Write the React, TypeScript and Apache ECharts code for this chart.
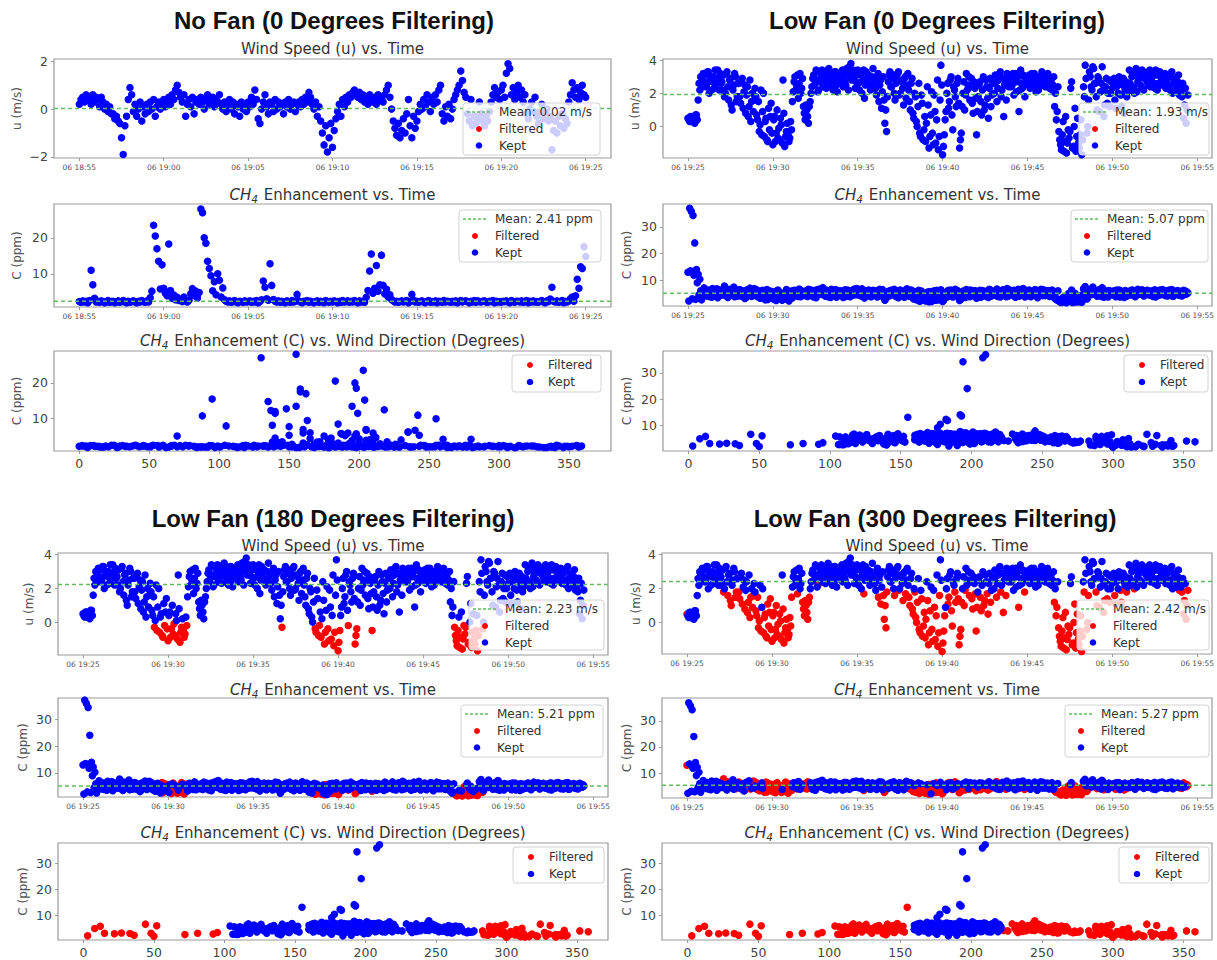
import { useEffect, useRef } from 'react';
import * as echarts from 'echarts';

// ---------------- DATA ----------------
const SAMPLE_STEP_MIN = 0.1; // one sample every 6 s, minutes after the first tick
const LOW_B_OFFSET_MIN = 0.05; // second interleaved set of Low Fan samples (3 s later)

// No Fan run (06 18:55 -> 06 19:25)
const noFanU = [
  0.2, 0.4, 0.5, 0.3, 0.6, 0.4, 0.5, 0.2, 0.6, 0.3,
  0.5, 0.4, 0.1, 0.5, 0.3, 0.0, 0.2, -0.1, 0.1, -0.2,
  -0.2, -0.4, -0.3, -0.5, -0.6, -1.2, -1.9, -0.7, -0.3, 0.4,
  0.9, 0.6, -0.1, 0.2, -0.3, 0.0, 0.3, -0.5, 0.1, -0.2,
  0.2, -0.1, 0.3, 0.0, 0.4, -0.3, 0.1, 0.3, 0.0, 0.2,
  0.4, 0.1, 0.3, 0.5, 0.2, 0.6, 0.4, 0.8, 1.0, 0.7,
  0.5, 0.3, 0.6, -0.3, 0.2, 0.4, 0.1, 0.5, -0.2, 0.3,
  0.4, 0.2, 0.5, 0.3, 0.0, 0.4, 0.6, 0.2, 0.3, 0.5,
  0.1, 0.4, 0.3, 0.6, 0.2, 0.0, 0.3, -0.1, 0.2, 0.4,
  0.0, 0.3, -0.2, 0.2, 0.1, -0.3, 0.3, 0.0, 0.2, -0.1,
  0.3, 0.1, 0.5, 0.2, 0.8, 0.4, -0.4, -0.6, 0.0, 0.3,
  0.6, 0.1, -0.2, 0.3, 0.2, -0.1, 0.4, 0.0, 0.3, 0.1,
  0.2, -0.2, 0.3, 0.1, 0.4, 0.0, 0.2, 0.3, -0.1, 0.2,
  0.3, 0.1, 0.4, 0.2, 0.5, 0.3, 0.7, 0.5, 0.2, 0.0,
  0.3, -0.3, 0.1, -0.5, -1.0, -1.5, -0.7, -1.8, -1.2, -0.6,
  -1.6, -0.9, -0.4, -0.1, 0.2, -0.3, 0.4, 0.1, 0.5, 0.3,
  0.6, 0.5, 0.7, 0.8, 0.6, 0.5, 0.7, 0.4, 0.6, 0.3,
  0.5, 0.2, 0.6, 0.4, 0.3, 0.5, 0.2, 0.6, 0.4, 0.5,
  0.3, 0.6, 0.8, 1.0, 0.5, 0.0, -0.5, -0.8, -1.1, -0.6,
  -1.2, -0.9, -0.4, -1.0, -0.2, 0.4, -0.7, -1.2, -0.3, -0.8,
  -0.5, -0.1, 0.2, 0.0, 0.4, 0.1, 0.6, 0.3, -0.1, 0.5,
  0.2, 0.6, 0.3, 0.8, 1.0, -0.2, -0.5, 0.1, -0.3, 0.2,
  -0.4, 0.0, 0.4, 0.6, 0.8, 1.0, 1.6, 1.2, 0.7, 0.5,
  -0.2, -0.5, 0.4, -0.7, -0.3, -0.6, -0.4, 0.3, -0.2, -0.5,
  -0.7, -0.3, -0.5, -0.1, 0.3, 0.6, 0.9, 0.5, 0.7, 0.4,
  0.8, 1.0, 0.5, 1.5, 1.9, 1.7, 0.6, 0.9, 0.4, 0.7,
  1.0, 0.5, 0.8, 0.3, 0.6, -0.2, -0.4, 0.0, 0.3, -0.1,
  0.5, -0.3, -0.6, -0.1, 0.2, -0.4, -0.2, 0.0, -0.5, -0.3,
  -1.7, -0.9, -0.5, -1.0, -0.3, -0.7, -0.2, -0.8, -0.4, -0.6,
  0.3, 0.6, 1.1, 0.8, 0.5, 0.9, 0.4, 0.7, 1.0, 0.6,
  0.5,
];
const noFanC = [
  2.3, 2.1, 2.5, 2.2, 2.4, 2.0, 2.6, 11.0, 7.0, 3.2,
  2.2, 2.4, 2.1, 2.5, 2.3, 2.0, 2.2, 2.6, 2.1, 2.3,
  2.4, 2.0, 2.2, 2.5, 2.1, 2.3, 2.6, 2.2, 2.0, 2.4,
  2.1, 2.3, 2.5, 2.2, 2.0, 2.4, 2.2, 2.6, 2.3, 2.1,
  2.5, 2.2, 3.4, 5.2, 23.5, 20.5, 17.0, 13.5, 5.8, 12.5,
  6.0, 4.6, 3.9, 18.3, 5.4, 3.2, 4.1, 2.8, 3.5, 2.6,
  2.9, 2.3, 3.6, 2.5, 2.2, 2.7, 4.5, 5.9, 4.0, 5.2,
  3.3, 4.8, 28.0, 27.0, 20.0, 18.5, 13.5, 11.5, 9.5, 5.3,
  7.8, 4.2, 10.0, 8.2, 3.6, 6.1, 2.8, 2.4, 2.2, 2.5,
  2.1, 2.3, 2.6, 2.2, 2.0, 2.4, 2.3, 2.1, 2.5, 2.2,
  2.3, 2.5, 2.1, 2.4, 2.2, 2.6, 2.0, 2.3, 2.8, 8.0,
  6.3, 3.1, 2.7, 12.8, 6.8, 2.9, 2.4, 2.2, 2.5, 2.1,
  2.4, 2.2, 2.0, 2.5, 2.3, 2.1, 2.6, 2.2, 2.4, 4.3,
  2.5, 2.2, 2.0, 2.4, 2.3, 2.6, 2.1, 2.4, 2.2, 2.0,
  2.3, 2.5, 2.1, 2.4, 2.2, 2.0, 2.6, 2.3, 2.1, 2.4,
  2.2, 2.5, 2.3, 2.0, 2.4, 2.1, 2.6, 2.2, 2.3, 2.5,
  2.1, 2.4, 2.2, 2.6, 2.3, 2.0, 2.5, 2.2, 2.4, 2.1,
  3.5, 5.4, 10.8, 15.5, 4.6, 6.0, 12.3, 5.2, 7.0, 15.2,
  6.8, 4.4, 5.7, 3.6, 4.2, 2.9, 2.5, 2.2, 2.4, 2.1,
  2.3, 2.5, 2.2, 2.4, 2.6, 2.0, 2.3, 4.3, 2.7, 2.2,
  2.4, 2.1, 2.3, 2.5, 2.2, 2.0, 2.4, 2.6, 2.1, 2.3,
  2.2, 2.5, 2.0, 2.4, 2.3, 2.1, 2.6, 2.2, 2.4, 2.3,
  2.1, 2.4, 2.2, 2.5, 2.0, 2.3, 2.6, 2.2, 2.4, 2.5,
  2.3, 2.0, 2.4, 2.2, 2.6, 2.1, 2.5, 2.3, 2.2, 2.4,
  2.5, 2.2, 2.1, 2.4, 2.3, 2.6, 2.0, 2.4, 2.2, 2.3,
  2.1, 2.4, 2.3, 2.5, 2.2, 2.0, 2.6, 2.3, 2.1, 2.4,
  2.4, 2.2, 2.5, 2.1, 2.3, 2.6, 2.0, 2.4, 2.2, 2.5,
  2.2, 2.3, 2.1, 2.4, 2.6, 2.2, 2.0, 2.5, 2.3, 3.0,
  6.3, 2.4, 2.2, 2.5, 2.1, 2.3, 2.6, 2.0, 2.4, 2.2,
  2.5, 3.1, 3.6, 2.4, 3.9, 8.5, 6.0, 12.0, 11.5, 17.5,
  14.8,
];
const noFanDir = [
  12, 87, 233, 301, 45, 168, 279, 242, 205, 160,
  350, 121, 64, 196, 318, 27, 254, 143, 92, 337,
  5, 178, 289, 56, 225, 110, 341, 74, 263, 132,
  210, 33, 356, 152, 97, 271, 18, 187, 308, 248,
  66, 327, 145, 175, 203, 183, 162, 155, 198, 218,
  192, 140, 210, 158, 150, 185, 230, 195, 138, 23,
  168, 296, 200, 41, 115, 222, 165, 187, 205, 197,
  143, 212, 155, 130, 197, 198, 195, 140, 163, 190,
  150, 178, 255, 138, 220, 165, 206, 3, 283, 79,
  237, 349, 104, 191, 62, 315, 171, 28, 246, 127,
  295, 10, 183, 268, 51, 149, 332, 214, 180, 105,
  235, 193, 177, 148, 205, 226, 359, 88, 201, 274,
  38, 161, 306, 117, 243, 15, 189, 70, 323, 260,
  142, 258, 84, 208, 347, 125, 277, 47, 196, 312,
  170, 8, 229, 99, 286, 155, 60, 217, 135, 343,
  252, 31, 186, 113, 320, 204, 76, 166, 290, 2,
  199, 139, 265, 53, 174, 334, 95, 221, 11, 158,
  170, 243, 88, 95, 180, 210, 137, 70, 160, 204,
  240, 200, 188, 172, 208, 152, 300, 43, 128, 357,
  184, 72, 239, 19, 146, 281, 207, 280, 163, 101,
  325, 57, 192, 133, 270, 6, 176, 244, 90, 213,
  36, 303, 157, 224, 82, 338, 119, 195, 261, 14,
  188, 66, 250, 141, 311, 172, 25, 228, 107, 293,
  153, 346, 202, 49, 276, 124, 182, 0, 236, 167,
  93, 317, 211, 136, 58, 255, 179, 29, 299, 144,
  219, 78, 352, 190, 112, 266, 40, 161, 329, 206,
  131, 21, 247, 175, 305, 68, 198, 285, 150, 355,
  100, 226, 17, 185, 263, 139, 340, 52, 194, 215,
  235, 171, 85, 314, 203, 34, 257, 118, 180, 336,
  46, 181, 145, 272, 195, 185, 160, 140, 199, 158,
  135,
];

// Low Fan run (06 19:25 -> 06 19:55), shared by the three Low Fan panels
const lowFanU = [
  0.5, 0.3, 0.6, 0.4, 0.2, 0.7, 1.6, 2.2, 2.9, 3.2,
  3.1, 2.5, 3.3, 2.8, 2.2, 3.0, 3.4, 2.6, 2.9, 3.2,
  2.7, 3.1, 2.0, 3.3, 1.6, 2.9, 1.0, 2.5, 3.0, 1.8,
  2.6, 1.4, 2.9, 2.1, 0.8, 2.4, 1.2, 0.3, 2.0, 1.6,
  1.8, 0.4, -0.3, 2.2, 0.9, -0.6, 0.5, -0.9, -0.2, 1.4,
  -1.1, 0.6, -0.4, -0.7, -0.8, 0.1, 2.8, -1.2, -0.3, -0.5,
  -0.7, -0.2, 2.1, 3.0, 2.5, 1.7, 3.2, 2.3, 1.2, 0.4,
  1.0, 0.2, 1.5, 2.4, 3.1, 2.8, 3.3, 2.2, 2.9, 3.4,
  2.6, 3.2, 2.9, 3.5, 2.4, 3.0, 2.7, 3.3, 2.1, 3.1,
  2.8, 3.4, 3.0, 2.5, 3.3, 3.6, 3.8, 2.9, 3.2, 2.7,
  3.4, 2.2, 3.1, 2.8, 1.7, 3.3, 2.6, 3.0, 2.4, 3.5,
  2.9, 1.9, 3.2, 2.5, 1.1, 3.0, 0.2, -0.3, 2.7, 3.3,
  2.4, 3.1, 1.6, 2.8, 3.3, 2.0, 2.7, 1.3, 3.0, 2.5,
  2.2, 1.0, 2.9, 0.5, 1.8, 0.0, 2.6, -0.6, 1.4, -0.2,
  -0.9, 2.4, -1.3, 0.7, -0.4, 1.9, -1.0, 2.8, -0.6, 3.7,
  -1.7, -0.5, 0.9, 2.6, 1.5, 3.0, -0.2, 2.2, 1.2, 2.9,
  -1.3, -0.4, 2.0, 1.0, 3.2, 2.5, 1.6, 2.9, 0.8, 2.3,
  -0.5, 1.8, 2.7, 0.7, 3.0, 1.3, 2.4, 0.5, 2.9, 1.9,
  2.6, 3.1, 1.5, 2.8, 3.3, 2.2, 0.6, 2.9, 3.2, 2.4,
  3.0, 2.5, 1.9, 3.2, 2.7, 0.9, 3.4, 2.3, 3.0, 2.6,
  2.8, 3.1, 2.4, 2.9, 3.2, 2.1, 2.7, 3.0, 2.5, 3.1,
  2.9, 2.6, 3.2, 2.3, 2.8, 2.5, 1.2, 0.4, 2.4, -0.8,
  -1.4, 0.3, -0.9, -1.6, -0.2, -0.3, 2.7, -1.2, 1.1, -0.6,
  -1.0, -0.5, -1.7, 2.4, 3.7, -0.4, 1.6, 3.0, 2.2, 3.5,
  2.6, 1.0, 2.9, 2.1, 3.6, 0.6, 2.4, 1.4, 2.8, 2.0,
  2.3, 2.9, 1.1, 2.6, 3.0, 1.9, 2.5, 0.8, 2.7, 2.1,
  3.4, 2.2, 3.1, 2.0, 3.5, 2.7, 3.2, 2.4, 3.3, 2.9,
  3.0, 2.5, 3.4, 2.8, 3.2, 2.3, 3.1, 2.6, 3.3, 2.9,
  2.7, 3.2, 2.4, 3.0, 2.2, 3.3, 2.6, 2.9, 2.1, 3.1,
  2.5, 1.8, 0.5, 2.3, 1.0,
];
const lowFanC = [
  13.0, 37.0, 35.8, 34.3, 24.0, 14.0, 12.2, 10.3, 2.6, 6.2,
  5.4, 4.1, 6.3, 5.0, 3.6, 5.8, 4.6, 6.8, 5.2, 4.3,
  6.0, 4.8, 5.5, 3.9, 6.6, 5.1, 4.4, 7.4, 5.7, 4.0,
  5.3, 6.1, 4.5, 5.9, 3.4, 6.4, 4.9, 5.6, 4.2, 6.9,
  5.0, 3.8, 5.7, 4.6, 6.2, 3.1, 5.4, 2.7, 6.0, 4.4,
  3.3, 5.6, 2.4, 6.3, 4.1, 5.1, 3.7, 2.9, 6.5, 4.8,
  3.6, 5.9, 4.7, 6.1, 5.3, 3.9, 6.4, 4.5, 5.6, 4.2,
  5.1, 6.6, 4.3, 5.8, 3.7, 6.2, 4.9, 5.4, 6.8, 4.6,
  5.5, 4.0, 6.1, 5.0, 3.5, 5.9, 4.7, 6.5, 5.2, 4.4,
  6.0, 4.8, 5.3, 3.9, 6.3, 5.6, 4.2, 5.0, 6.7, 4.5,
  5.2, 6.4, 4.1, 5.7, 3.3, 6.0, 4.9, 5.5, 3.8, 6.2,
  4.6, 5.9, 4.0, 6.6, 5.1, 3.6, 2.5, 3.9, 5.8, 4.7,
  6.1, 5.0, 4.3, 5.6, 3.4, 6.3, 4.8, 5.3, 4.0, 6.8,
  5.4, 4.2, 6.0, 2.9, 5.7, 3.5, 6.2, 2.3, 4.6, 3.1,
  2.2, 5.5, 1.9, 4.4, 2.8, 6.0, 2.5, 5.2, 3.6, 6.4,
  2.0, 3.3, 4.8, 5.9, 4.1, 6.3, 3.7, 5.4, 4.5, 6.0,
  2.4, 3.0, 5.6, 4.3, 6.5, 5.0, 3.8, 5.8, 4.2, 6.1,
  3.2, 4.6, 6.2, 3.9, 5.5, 4.1, 5.9, 3.5, 6.4, 4.8,
  5.6, 4.3, 6.7, 5.1, 3.7, 6.0, 4.5, 5.3, 6.9, 4.1,
  5.8, 4.7, 6.2, 3.6, 5.4, 4.0, 6.5, 5.0, 4.4, 6.1,
  4.9, 6.3, 3.8, 5.6, 4.5, 6.0, 3.4, 5.2, 6.6, 4.2,
  5.7, 4.4, 6.1, 3.9, 5.3, 4.8, 3.2, 2.6, 6.0, 2.0,
  1.6, 3.5, 2.2, 1.5, 4.9, 2.7, 6.3, 1.8, 5.1, 2.4,
  2.0, 3.9, 1.7, 6.8, 7.6, 2.9, 5.0, 6.2, 4.6, 5.7,
  5.2, 4.0, 6.4, 4.7, 7.2, 3.6, 5.9, 4.3, 6.1, 5.0,
  4.5, 6.0, 3.8, 5.4, 6.3, 4.9, 5.6, 3.5, 5.8, 4.4,
  5.9, 4.6, 6.2, 4.1, 5.5, 6.6, 4.8, 5.3, 6.0, 4.3,
  5.0, 6.1, 4.4, 5.7, 3.9, 6.4, 4.9, 5.4, 6.3, 4.6,
  5.5, 4.2, 6.0, 5.1, 4.7, 6.5, 4.0, 5.8, 5.2, 4.5,
  5.3, 4.1, 6.2, 4.8, 5.6,
];
const lowFanDir = [
  155, 210, 208, 194, 197, 192, 182, 178, 176, 185,
  188, 172, 195, 168, 207, 201, 190, 164, 213, 183,
  205, 179, 171, 193, 236, 170, 128, 217, 186, 151,
  162, 247, 198, 174, 118, 220, 139, 262, 166, 244,
  175, 112, 292, 190, 168, 305, 252, 318, 331, 134,
  327, 124, 286, 299, 341, 258, 183, 312, 44, 8,
  298, 52, 204, 187, 173, 226, 196, 160, 133, 254,
  241, 117, 238, 181, 203, 167, 191, 150, 210, 186,
  178, 199, 215, 188, 163, 207, 171, 194, 212, 182,
  200, 185, 176, 219, 192, 197, 189, 169, 206, 174,
  193, 214, 180, 211, 146, 187, 165, 202, 170, 190,
  171, 217, 196, 177, 127, 184, 109, 283, 208, 195,
  161, 190, 243, 177, 199, 166, 212, 121, 186, 203,
  170, 249, 181, 113, 152, 276, 197, 302, 238, 27,
  334, 183, 316, 131, 22, 214, 308, 192, 358, 204,
  321, 95, 166, 175, 232, 188, 303, 209, 144, 179,
  337, 48, 168, 253, 194, 216, 130, 182, 110, 186,
  290, 221, 185, 137, 198, 245, 174, 123, 207, 165,
  176, 203, 148, 190, 186, 201, 115, 211, 195, 169,
  182, 193, 162, 197, 173, 128, 188, 179, 205, 178,
  213, 189, 208, 178, 200, 187, 184, 196, 218, 171,
  191, 166, 202, 174, 180, 210, 141, 107, 187, 3,
  313, 259, 343, 300, 288, 92, 195, 322, 237, 284,
  339, 352, 310, 172, 192, 33, 251, 184, 219, 199,
  206, 134, 181, 197, 193, 270, 163, 242, 188, 180,
  175, 197, 255, 211, 186, 139, 221, 116, 170, 205,
  190, 161, 204, 147, 194, 177, 209, 189, 183, 198,
  185, 214, 196, 171, 201, 182, 179, 165, 192, 207,
  168, 193, 204, 182, 172, 199, 215, 176, 191, 188,
  178, 223, 121, 196, 267,
];
// interleaved Low Fan samples (3 s after each sample above)
const lowFanUb = [
  0.4, 0.6, 0.3, 0.5, 0.7, 0.4, 2.6, 3.0, 2.4, 2.7,
  2.4, 3.3, 2.0, 3.0, 2.7, 2.3, 2.9, 3.4, 2.2, 2.6,
  2.2, 1.8, 3.2, 2.4, 2.8, 1.3, 2.2, 3.2, 1.5, 2.6,
  1.8, 2.7, 1.1, 2.5, 1.9, 0.6, 2.8, 1.5, 0.9, 2.3,
  0.7, 1.5, 0.1, -0.5, 2.0, 0.3, -0.8, 1.1, 0.6, -0.4,
  0.4, -0.9, 1.0, -0.1, 0.5, -1.0, 0.8, -0.6, 0.2, -0.9,
  0.3, 1.5, 2.7, 2.2, 3.1, 2.6, 2.0, 2.9, 0.8, 1.3,
  0.6, 1.2, 2.0, 2.9, 2.5, 3.4, 2.1, 2.7, 3.2, 2.4,
  3.0, 2.3, 3.4, 2.7, 3.1, 2.2, 3.3, 2.5, 2.9, 2.6,
  3.1, 2.4, 2.7, 3.5, 2.2, 3.0, 2.8, 3.4, 2.3, 3.1,
  2.6, 3.2, 2.0, 3.4, 2.5, 2.9, 3.1, 2.2, 3.0, 2.7,
  2.3, 3.0, 1.5, 2.8, 2.1, 1.6, 1.0, 1.8, 3.1, 2.4,
  2.9, 2.0, 2.6, 3.2, 1.9, 2.8, 2.3, 2.9, 1.7, 3.2,
  1.5, 2.6, 0.8, 2.0, 0.3, 1.2, -0.4, 1.9, -0.8, 0.6,
  0.2, 1.3, -0.6, 2.1, -1.1, 0.9, 0.4, -1.4, 1.6, 2.5,
  -1.2, 0.4, 2.0, 1.1, 2.8, 0.7, 2.4, 1.8, 2.6, 1.4,
  -0.8, 1.2, 2.7, 1.9, 2.2, 3.0, 2.4, 1.4, 2.7, 1.7,
  0.9, 2.5, 1.5, 2.2, 1.0, 2.8, 1.7, 2.3, 1.2, 2.6,
  2.0, 2.7, 2.3, 3.2, 1.8, 2.9, 2.5, 1.6, 2.7, 3.0,
  2.4, 3.2, 2.8, 2.1, 3.0, 2.2, 2.6, 3.1, 1.8, 2.9,
  2.5, 2.3, 3.2, 2.6, 2.4, 3.0, 2.2, 2.8, 3.3, 2.6,
  2.4, 3.1, 2.7, 2.9, 2.2, 3.0, 2.0, 0.9, -0.3, -1.1,
  -0.5, -1.5, 0.6, -1.0, -0.7, 2.3, -1.3, 0.0, -1.5, 0.5,
  -1.3, 0.4, -0.8, 1.8, 2.9, 0.0, 3.3, 2.4, 3.6, 2.6,
  1.8, 3.0, 0.9, 2.6, 2.2, 1.3, 2.9, 2.0, 1.2, 2.7,
  2.8, 1.6, 2.4, 2.0, 2.6, 1.2, 2.9, 2.2, 1.8, 2.5,
  2.6, 3.0, 2.4, 3.3, 2.1, 2.9, 2.5, 3.4, 2.2, 3.1,
  2.7, 3.3, 2.4, 3.0, 2.6, 3.4, 2.2, 3.1, 2.5, 2.8,
  3.0, 2.3, 2.9, 2.5, 3.2, 2.0, 2.8, 2.4, 2.7, 1.9,
  2.1, 2.6, 1.3, 0.2, 1.9,
];
const lowFanCb = [
  2.2, 13.5, 3.0, 11.8, 2.8, 9.0, 4.5, 6.0, 5.2, 7.1,
  4.7, 6.1, 3.9, 5.5, 6.9, 4.2, 5.9, 3.4, 6.4, 5.0,
  4.4, 7.8, 5.2, 3.5, 6.0, 4.9, 6.7, 3.8, 5.4, 6.3,
  6.5, 4.0, 5.8, 3.1, 6.2, 4.6, 7.0, 3.9, 5.5, 4.3,
  6.4, 4.8, 3.2, 5.9, 4.1, 2.6, 6.5, 3.5, 4.9, 5.7,
  2.8, 4.4, 6.0, 3.0, 5.3, 2.5, 4.7, 3.6, 5.8, 2.2,
  4.9, 3.3, 6.2, 5.0, 4.1, 6.7, 3.8, 5.5, 4.6, 6.0,
  3.9, 5.6, 6.3, 4.2, 5.9, 3.4, 6.5, 4.7, 5.2, 7.2,
  4.6, 6.2, 3.8, 5.7, 6.6, 4.3, 5.4, 3.6, 6.0, 5.1,
  5.7, 3.5, 6.4, 4.9, 5.2, 3.8, 6.1, 4.4, 5.6, 6.9,
  4.4, 5.6, 6.8, 3.7, 5.0, 4.5, 6.3, 3.9, 5.8, 4.8,
  6.0, 3.7, 5.4, 4.9, 6.5, 4.2, 3.0, 5.6, 4.1, 6.2,
  4.5, 6.6, 3.9, 5.2, 6.0, 4.4, 5.7, 3.6, 6.4, 4.9,
  4.0, 6.3, 3.3, 5.1, 2.6, 4.8, 2.1, 5.9, 3.0, 4.4,
  3.8, 2.4, 5.7, 2.0, 4.9, 3.3, 6.2, 2.6, 4.1, 5.5,
  2.3, 5.1, 3.6, 6.2, 4.4, 5.5, 3.9, 6.6, 4.7, 5.2,
  2.7, 4.8, 6.0, 3.5, 5.3, 4.0, 6.3, 4.6, 5.6, 3.7,
  4.3, 5.7, 3.6, 6.1, 4.5, 5.2, 3.8, 6.6, 4.0, 5.5,
  4.8, 6.2, 3.9, 5.5, 4.2, 6.4, 5.0, 3.8, 5.7, 6.3,
  4.5, 6.0, 3.9, 5.7, 6.6, 4.3, 5.1, 6.9, 3.7, 5.4,
  6.1, 4.0, 5.3, 4.7, 6.5, 3.9, 5.8, 4.4, 5.1, 6.4,
  4.2, 6.0, 5.0, 4.5, 6.3, 3.8, 5.5, 3.0, 2.2, 1.7,
  2.8, 1.9, 3.3, 2.1, 2.5, 5.6, 1.6, 3.9, 1.8, 3.1,
  1.9, 4.2, 2.6, 6.0, 5.1, 3.4, 6.5, 4.9, 7.4, 5.3,
  6.0, 4.6, 5.2, 3.9, 6.7, 4.4, 5.5, 3.7, 5.9, 4.8,
  5.6, 4.2, 6.3, 5.0, 3.7, 5.8, 4.5, 6.1, 4.0, 5.3,
  4.4, 6.3, 5.1, 3.8, 6.0, 4.7, 5.6, 6.4, 4.1, 5.4,
  6.2, 4.5, 5.3, 6.0, 4.8, 3.7, 5.9, 4.3, 5.6, 6.5,
  4.6, 5.9, 4.1, 6.3, 5.4, 4.0, 5.6, 4.9, 6.1, 4.3,
  5.8, 4.4, 6.0, 4.7, 5.2,
];
const lowFanDirb = [
  190, 193, 202, 183, 199, 176, 187, 205, 168, 196,
  178, 192, 199, 181, 209, 163, 197, 186, 211, 174,
  160, 245, 190, 214, 178, 131, 185, 199, 256, 184,
  141, 193, 264, 170, 218, 119, 201, 237, 107, 162,
  126, 250, 272, 296, 180, 110, 324, 145, 268, 288,
  138, 307, 241, 15, 122, 335, 257, 294, 104, 36,
  113, 233, 191, 175, 198, 172, 194, 208, 129, 259,
  266, 142, 205, 185, 216, 194, 183, 177, 202, 169,
  189, 210, 197, 173, 206, 177, 184, 219, 193, 166,
  180, 174, 211, 195, 198, 187, 170, 200, 188, 183,
  214, 191, 182, 186, 165, 204, 178, 207, 196, 172,
  171, 189, 147, 201, 162, 254, 118, 240, 192, 176,
  185, 215, 170, 197, 135, 209, 178, 181, 248, 194,
  143, 188, 262, 167, 106, 231, 299, 219, 81, 125,
  273, 140, 12, 184, 311, 258, 116, 339, 236, 197,
  306, 132, 212, 247, 190, 111, 164, 229, 181, 150,
  330, 244, 200, 153, 221, 188, 173, 137, 206, 234,
  120, 179, 252, 160, 268, 195, 146, 216, 129, 187,
  194, 199, 167, 184, 143, 207, 174, 257, 191, 180,
  168, 193, 212, 205, 186, 176, 202, 178, 236, 197,
  171, 179, 189, 206, 163, 194, 210, 183, 200, 215,
  176, 198, 220, 185, 167, 192, 203, 130, 287, 316,
  296, 328, 114, 309, 72, 203, 335, 277, 50, 261,
  342, 123, 291, 232, 196, 274, 189, 168, 201, 214,
  145, 193, 266, 178, 173, 127, 204, 192, 250, 186,
  199, 243, 166, 211, 182, 135, 208, 185, 239, 174,
  172, 195, 217, 188, 176, 203, 180, 191, 200, 184,
  209, 187, 161, 198, 212, 193, 179, 181, 170, 216,
  190, 208, 175, 164, 197, 171, 205, 194, 183, 253,
  182, 189, 240, 117, 233,
];

const panelTitles = [
  'No Fan (0 Degrees Filtering)',
  'Low Fan (0 Degrees Filtering)',
  'Low Fan (180 Degrees Filtering)',
  'Low Fan (300 Degrees Filtering)',
];
const meanU = [0.02, 1.93, 2.23, 2.42];
const meanC = [2.41, 5.07, 5.21, 5.27];
const keptDirMin = [0, 0, 100, 160];
const keptDirMax = [360, 360, 280, 222];
const timeTickMinutes = [0, 5, 10, 15, 20, 25, 30];
const noFanTimeLabels = ['06 18:55', '06 19:00', '06 19:05', '06 19:10', '06 19:15', '06 19:20', '06 19:25'];
const lowFanTimeLabels = ['06 19:25', '06 19:30', '06 19:35', '06 19:40', '06 19:45', '06 19:50', '06 19:55'];
const dirTicks = [0, 50, 100, 150, 200, 250, 300, 350];
const uTicksNoFan = [-2, 0, 2];
const uTicksLowFan = [0, 2, 4];
const cTicksNoFan = [10, 20];
const cTicksLowFan = [10, 20, 30];

// ---------------- LAYOUT ----------------
const FONT = '"DejaVu Sans", Verdana, sans-serif';
const TITLE_FONT = '"Liberation Sans", Arial, sans-serif';
const BLUE = '#0000ff';
const RED = '#ff0000';
const GREEN = '#5cbf5c';
const AXIS_GRAY = '#9a9a9a';
const TEXT_GRAY = '#444444';
const SUB_SIZE = 15;

const GRID_BOXES = [
  [54, 59, 557, 99], [54, 204, 557, 103], [54, 351, 557, 100],
  [663, 59, 549, 99], [663, 204, 549, 102], [663, 351, 549, 100],
  [58, 553, 550, 102], [58, 698, 550, 99], [58, 843, 550, 97],
  [662, 553, 550, 101], [662, 698, 550, 100], [662, 843, 550, 97],
];
const Y_RANGES = [
  [-2.05, 2.1], [0.8, 29.4], [1.0, 28.9],
  [-1.9, 4.07], [0.3, 38.6], [0.1, 38.4],
  [-1.95, 4.1], [1.1, 37.8], [0.4, 37.7],
  [-1.85, 4.1], [0.4, 38.8], [0.4, 37.7],
];
const X_RANGES = [
  [-1.5, 31.5], [-1.5, 31.5], [-18, 380],
  [-1.47, 30.87], [-1.47, 30.87], [-18, 370],
  [-1.47, 30.87], [-1.47, 30.87], [-18, 372],
  [-1.47, 30.87], [-1.47, 30.87], [-18, 370],
];
const NAME_GAPS = [31, 31, 31, 22, 30, 30, 23, 29, 29, 20, 29, 29];
const LEGEND_BOXES = [
  [463, 103, 137, 52], [459, 210, 142, 52], [512, 355, 89, 37],
  [1079, 103, 130, 52], [1071, 210, 137, 52], [1124, 355, 84, 37],
  [469, 600, 135, 50], [461, 705, 142, 52], [513, 847, 91, 36],
  [1077, 600, 132, 50], [1065, 705, 144, 52], [1119, 847, 90, 36],
];
const PANEL_CENTERS = [[334, 20], [937, 20], [333, 518], [935, 518]];
const SUBTITLE_Y = [[49, 195, 341], [49, 195, 341], [546, 690, 833], [546, 690, 833]];

function fmtNum(v: number) {
  return v < 0 ? '\u2212' + Math.abs(v) : String(v);
}

function textEl(x: number, y: number, text: string, font: string, fill: string, align = 'left', z = 102) {
  return {
    type: 'text', x, y, z, silent: true,
    style: { text, font, fill, align, verticalAlign: 'middle', textAlign: align, textVerticalAlign: 'middle' },
  };
}

function legendEls(gi: number, meanLabel: string | null) {
  const [x, y, w, h] = LEGEND_BOXES[gi];
  const els: any[] = [];
  els.push({
    type: 'rect', z: 100, silent: true,
    shape: { x, y, width: w, height: h, r: 3 },
    style: { fill: 'rgba(255,255,255,0.8)', stroke: '#d2d2d2', lineWidth: 1 },
  });
  const font = '12px ' + FONT;
  const txtCol = '#333333';
  if (meanLabel) {
    const r0 = y + 9, r1 = y + 26, r2 = y + 42.5;
    els.push({
      type: 'line', z: 101, silent: true,
      shape: { x1: x + 4, y1: r0, x2: x + 27, y2: r0 },
      style: { stroke: GREEN, lineWidth: 1.6, lineDash: [3, 2] },
    });
    els.push(textEl(x + 36, r0, meanLabel, font, txtCol));
    els.push({ type: 'circle', z: 101, silent: true, shape: { cx: x + 16, cy: r1, r: 3 }, style: { fill: RED } });
    els.push(textEl(x + 36, r1, 'Filtered', font, txtCol));
    els.push({ type: 'circle', z: 101, silent: true, shape: { cx: x + 16, cy: r2, r: 3.3 }, style: { fill: BLUE } });
    els.push(textEl(x + 36, r2, 'Kept', font, txtCol));
  } else {
    const r0 = y + 10, r1 = y + 27;
    els.push({ type: 'circle', z: 101, silent: true, shape: { cx: x + 18, cy: r0, r: 3 }, style: { fill: RED } });
    els.push(textEl(x + 36, r0, 'Filtered', font, txtCol));
    els.push({ type: 'circle', z: 101, silent: true, shape: { cx: x + 18, cy: r1, r: 3.3 }, style: { fill: BLUE } });
    els.push(textEl(x + 36, r1, 'Kept', font, txtCol));
  }
  return els;
}

function ch4Title(x: number, y: number, rest: string) {
  const base = { fontFamily: FONT, fill: '#333333', color: '#333333' };
  return {
    type: 'text', x, y, z: 50, silent: true,
    style: {
      text: '{i|CH}{s|4}{n|' + rest + '}',
      align: 'center', verticalAlign: 'middle', textAlign: 'center', textVerticalAlign: 'middle',
      rich: {
        i: { ...base, fontSize: SUB_SIZE, fontStyle: 'italic' },
        s: { ...base, fontSize: 10.5, fontStyle: 'italic', padding: [8, 1, 0, 0] },
        n: { ...base, fontSize: SUB_SIZE },
      },
    },
  };
}

type SampleSet = { u: number[]; c: number[]; d: number[]; t0: number };

function buildOption() {
  const grid: any[] = [];
  const xAxis: any[] = [];
  const yAxis: any[] = [];
  const series: any[] = [];
  const graphic: any[] = [];

  const noFanSets: SampleSet[] = [{ u: noFanU, c: noFanC, d: noFanDir, t0: 0 }];
  const lowFanSets: SampleSet[] = [
    { u: lowFanU, c: lowFanC, d: lowFanDir, t0: 0 },
    { u: lowFanUb, c: lowFanCb, d: lowFanDirb, t0: LOW_B_OFFSET_MIN },
  ];

  for (let p = 0; p < 4; p++) {
    const isNoFan = p === 0;
    const sets = isNoFan ? noFanSets : lowFanSets;
    const lo = keptDirMin[p];
    const hi = keptDirMax[p];
    const timeLabels = isNoFan ? noFanTimeLabels : lowFanTimeLabels;

    const [cx, ty] = PANEL_CENTERS[p];
    graphic.push(textEl(cx, ty, panelTitles[p], 'bold 24px ' + TITLE_FONT, '#111111', 'center', 50));
    const sy = SUBTITLE_Y[p];
    const subCx = (GRID_BOXES[p * 3][0] * 2 + GRID_BOXES[p * 3][2]) / 2;
    graphic.push(textEl(subCx, sy[0], 'Wind Speed (u) vs. Time', SUB_SIZE + 'px ' + FONT, '#333333', 'center', 50));
    graphic.push(ch4Title(subCx, sy[1], ' Enhancement vs. Time'));
    graphic.push(ch4Title(subCx, sy[2], ' Enhancement (C) vs. Wind Direction (Degrees)'));

    for (let s = 0; s < 3; s++) {
      const gi = p * 3 + s;
      const [l, t, w, h] = GRID_BOXES[gi];
      grid.push({ left: l, top: t, width: w, height: h, show: true, borderColor: AXIS_GRAY, borderWidth: 1.2, backgroundColor: 'transparent' });

      const isDir = s === 2;
      const xTicks = isDir ? dirTicks : timeTickMinutes;
      xAxis.push({
        type: 'value', gridIndex: gi, min: X_RANGES[gi][0], max: X_RANGES[gi][1],
        axisLine: { show: false, onZero: false },
        splitLine: { show: false },
        axisTick: { show: true, customValues: xTicks, length: 3, lineStyle: { color: AXIS_GRAY, width: 1 } },
        axisLabel: {
          customValues: xTicks,
          fontFamily: FONT,
          fontSize: isDir ? 12.5 : 7.5,
          color: isDir ? TEXT_GRAY : '#555555',
          margin: isDir ? 6 : 5,
          formatter: (v: number) => (isDir ? String(v) : timeLabels[timeTickMinutes.indexOf(v)] ?? ''),
        },
      });

      const yTicks = s === 0 ? (isNoFan ? uTicksNoFan : uTicksLowFan) : (isNoFan ? cTicksNoFan : cTicksLowFan);
      yAxis.push({
        type: 'value', gridIndex: gi, min: Y_RANGES[gi][0], max: Y_RANGES[gi][1],
        name: s === 0 ? 'u (m/s)' : 'C (ppm)',
        nameLocation: 'middle', nameGap: NAME_GAPS[gi], nameRotate: 90,
        nameTextStyle: { fontFamily: FONT, fontSize: 12, color: '#555555' },
        axisLine: { show: false, onZero: false },
        splitLine: { show: false },
        axisTick: { show: true, customValues: yTicks, length: 3, lineStyle: { color: AXIS_GRAY, width: 1 } },
        axisLabel: { customValues: yTicks, fontFamily: FONT, fontSize: 12.5, color: TEXT_GRAY, margin: 6, formatter: (v: number) => fmtNum(v) },
      });

      const filtered: number[][] = [];
      const kept: number[][] = [];
      for (const set of sets) {
        const vals = s === 0 ? set.u : set.c;
        for (let i = 0; i < vals.length; i++) {
          const pt = isDir ? [set.d[i], set.c[i]] : [set.t0 + i * SAMPLE_STEP_MIN, vals[i]];
          if (set.d[i] >= lo && set.d[i] <= hi) kept.push(pt); else filtered.push(pt);
        }
      }
      const common = { type: 'scatter', xAxisIndex: gi, yAxisIndex: gi, symbol: 'circle', symbolSize: 7.5, silent: true, animation: false };
      series.push({ ...common, name: 'Filtered', data: filtered, itemStyle: { color: RED, opacity: 1 }, z: 2 });
      series.push({ ...common, name: 'Kept', data: kept, itemStyle: { color: BLUE, opacity: 1 }, z: 3 });

      if (!isDir) {
        const mean = s === 0 ? meanU[p] : meanC[p];
        series.push({
          type: 'line', name: 'Mean', xAxisIndex: gi, yAxisIndex: gi, silent: true, animation: false,
          showSymbol: false, symbol: 'none', z: 4,
          lineStyle: { color: GREEN, width: 1.5, type: [4, 3] },
          data: [[X_RANGES[gi][0], mean], [X_RANGES[gi][1], mean]],
        });
        const label = s === 0 ? 'Mean: ' + mean.toFixed(2) + ' m/s' : 'Mean: ' + mean.toFixed(2) + ' ppm';
        graphic.push(...legendEls(gi, label));
      } else {
        graphic.push(...legendEls(gi, null));
      }
    }
  }

  return {
    animation: false,
    backgroundColor: '#ffffff',
    grid, xAxis, yAxis, series,
    graphic: { elements: graphic },
  };
}

export default function App() {
  const ref = useRef<HTMLDivElement>(null);
  useEffect(() => {
    if (!ref.current) return;
    const chart = echarts.init(ref.current, undefined, { renderer: 'svg', width: 1217, height: 960 });
    chart.setOption(buildOption() as any);
    return () => chart.dispose();
  }, []);
  return (
    <div
      ref={ref}
      style={{ position: 'absolute', left: 0, top: 0, width: 1217, height: 960, background: '#ffffff' }}
    />
  );
}
